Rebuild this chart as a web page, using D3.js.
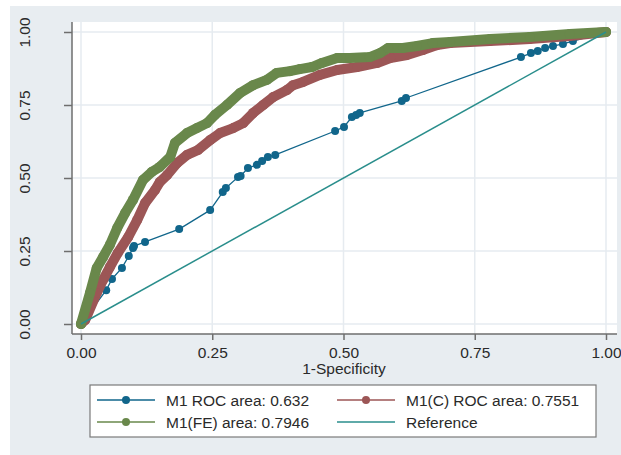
<!DOCTYPE html>
<html>
<head>
<meta charset="utf-8">
<script src="https://cdn.jsdelivr.net/npm/d3@7"></script>
<style>
  body { margin: 0; background: #fff; }
  svg { display: block; font-family: "Liberation Sans", Arial, sans-serif; }
</style>
</head>
<body>
<div class="roc"></div>
<script>
// Dimensions
const width = 621;
const height = 455;

// Ticks
const tickValues = [0, 0.25, 0.5, 0.75, 1];
const xTitle = '1-Specificity';

// Series (1-specificity, sensitivity)
const m1Points = [
	[0, 0], [0.048, 0.116], [0.059, 0.154], [0.078, 0.192], [0.091, 0.233],
	[0.099, 0.260], [0.101, 0.267], [0.122, 0.281], [0.187, 0.325], [0.246, 0.390],
	[0.270, 0.452], [0.276, 0.466], [0.299, 0.503], [0.304, 0.507], [0.318, 0.534],
	[0.335, 0.545], [0.345, 0.558], [0.356, 0.572], [0.370, 0.579], [0.484, 0.661],
	[0.501, 0.675], [0.516, 0.709], [0.524, 0.716], [0.531, 0.723], [0.611, 0.764],
	[0.619, 0.774], [0.838, 0.914], [0.857, 0.928], [0.870, 0.935], [0.884, 0.945],
	[0.899, 0.952], [0.918, 0.959], [0.937, 0.969], [1, 1]
];

const m1cPoints = [
	[0, 0], [0.008, 0.014], [0.030, 0.106], [0.042, 0.151], [0.055, 0.195],
	[0.070, 0.243], [0.090, 0.298], [0.107, 0.356], [0.122, 0.414], [0.141, 0.459],
	[0.150, 0.486], [0.164, 0.510], [0.183, 0.551], [0.202, 0.579], [0.223, 0.596],
	[0.246, 0.630], [0.265, 0.654], [0.290, 0.671], [0.309, 0.688], [0.328, 0.723],
	[0.347, 0.750], [0.366, 0.777], [0.392, 0.801], [0.404, 0.818], [0.423, 0.829],
	[0.455, 0.853], [0.488, 0.870], [0.526, 0.880], [0.564, 0.894], [0.589, 0.911],
	[0.621, 0.921], [0.651, 0.938], [0.678, 0.955], [0.703, 0.962], [0.779, 0.969],
	[0.855, 0.976], [0.931, 0.986], [1, 1]
];

const m1fePoints = [
	[0, 0], [0.017, 0.106], [0.030, 0.192], [0.042, 0.229], [0.055, 0.271],
	[0.069, 0.329], [0.084, 0.380], [0.099, 0.425], [0.118, 0.493], [0.135, 0.521],
	[0.150, 0.538], [0.170, 0.572], [0.179, 0.620], [0.202, 0.654], [0.221, 0.671],
	[0.240, 0.688], [0.255, 0.716], [0.278, 0.750], [0.303, 0.791], [0.328, 0.818],
	[0.354, 0.836], [0.373, 0.860], [0.398, 0.866], [0.417, 0.873], [0.440, 0.880],
	[0.459, 0.894], [0.488, 0.911], [0.512, 0.911], [0.550, 0.914], [0.570, 0.928],
	[0.585, 0.945], [0.613, 0.945], [0.640, 0.952], [0.670, 0.962], [0.703, 0.966],
	[0.779, 0.976], [0.855, 0.983], [0.931, 0.993], [1, 1]
];

const referencePoints = [[0, 0], [1, 1]];

// Légende
const legendLabels = ['M1 ROC area: 0.632', 'M1(C) ROC area: 0.7551', 'M1(FE) area: 0.7946', 'Reference'];

const colors = {
	m1: '#11668b',
	m1c: '#9c5656',
	m1fe: '#69884b',
	ref: '#2a8e8c'
};

const svg = d3.select('.roc')
	.append('svg')
	.attr('width', width)
	.attr('height', height);

// Fond gris et zone du graphique
svg.append('rect')
	.attr('x', 10).attr('y', 6)
	.attr('width', width - 10).attr('height', height - 6)
	.attr('fill', '#e8edf1');

const plot = { left: 72, right: 617, top: 22, bottom: 334 };

svg.append('rect')
	.attr('x', plot.left).attr('y', plot.top)
	.attr('width', plot.right - plot.left).attr('height', plot.bottom - plot.top)
	.attr('fill', '#fff');

const x = d3.scaleLinear().domain([0, 1]).range([81, 606]);
const y = d3.scaleLinear().domain([0, 1]).range([324, 32]);

// Grille
const grid = svg.append('g').attr('stroke', '#e6ebf0').attr('stroke-width', 1.5);
grid.selectAll('.gx')
	.data(tickValues)
	.join('line')
		.attr('x1', d => x(d)).attr('x2', d => x(d))
		.attr('y1', plot.top).attr('y2', plot.bottom);
grid.selectAll('.gy')
	.data(tickValues)
	.join('line')
		.attr('class', 'gy')
		.attr('y1', d => y(d)).attr('y2', d => y(d))
		.attr('x1', plot.left).attr('x2', plot.right);

// Axes
const fmt = d3.format('.2f');

svg.append('g')
	.attr('transform', `translate(0, ${plot.bottom})`)
	.call(d3.axisBottom(x).tickValues(tickValues).tickFormat(fmt).tickSize(6).tickPadding(7).tickSizeOuter(0))
	.call(g => g.select('.domain').attr('d', `M${plot.left},0H${plot.right}`))
	.call(g => g.selectAll('path, line').attr('stroke', '#6e6e6e').attr('stroke-width', 1.5))
	.call(g => g.selectAll('text').attr('fill', '#2a2a2a').style('font-size', '15.5px').style('font-family', '"Liberation Sans", Arial, sans-serif'));

const yAxis = svg.append('g')
	.attr('transform', `translate(${plot.left}, 0)`)
	.call(d3.axisLeft(y).tickValues(tickValues).tickFormat(fmt).tickSize(8).tickSizeOuter(0))
	.call(g => g.select('.domain').attr('d', `M0,${plot.top}V${plot.bottom}`))
	.call(g => g.selectAll('path, line').attr('stroke', '#6e6e6e').attr('stroke-width', 1.5));
yAxis.selectAll('text')
	.attr('x', null).attr('dy', null)
	.attr('text-anchor', 'middle')
	.attr('transform', 'translate(-42, 0) rotate(-90)')
	.attr('fill', '#2a2a2a')
	.style('font-size', '15.5px')
	.style('font-family', '"Liberation Sans", Arial, sans-serif');

svg.append('text')
	.attr('x', 344).attr('y', 374)
	.attr('text-anchor', 'middle')
	.attr('fill', '#2a2a2a')
	.style('font-size', '15.5px')
	.text(xTitle);

// Courbes
const line = d3.line().x(d => x(d[0])).y(d => y(d[1]));
const curves = svg.append('g');

function drawSeries(points, color, bandWidth, r) {
	const g = curves.append('g');
	g.append('path')
		.attr('d', line(points))
		.attr('fill', 'none')
		.attr('stroke', color)
		.attr('stroke-width', bandWidth)
		.attr('stroke-linejoin', 'round')
		.attr('stroke-linecap', 'round');
	g.selectAll('circle')
		.data(points)
		.join('circle')
			.attr('cx', d => x(d[0]))
			.attr('cy', d => y(d[1]))
			.attr('r', r)
			.attr('fill', color);
}

drawSeries(m1Points, colors.m1, 1.3, 4);
drawSeries(m1cPoints, colors.m1c, 10, 5);
drawSeries(m1fePoints, colors.m1fe, 10, 5);

curves.append('path')
	.attr('d', line(referencePoints))
	.attr('fill', 'none')
	.attr('stroke', colors.ref)
	.attr('stroke-width', 1.5);

// Légende
const legend = svg.append('g');
legend.append('rect')
	.attr('x', 90).attr('y', 385)
	.attr('width', 506).attr('height', 52)
	.attr('fill', '#fff')
	.attr('stroke', '#7a7a7a')
	.attr('stroke-width', 1.2);

const legendItems = [
	{ label: legendLabels[0], color: colors.m1, marker: true, col: 0, row: 0 },
	{ label: legendLabels[1], color: colors.m1c, marker: true, col: 1, row: 0 },
	{ label: legendLabels[2], color: colors.m1fe, marker: true, col: 0, row: 1 },
	{ label: legendLabels[3], color: colors.ref, marker: false, col: 1, row: 1 }
];
const colX = [97, 337];
const rowY = [400, 422];

const items = legend.selectAll('g.item')
	.data(legendItems)
	.join('g')
		.attr('class', 'item')
		.attr('transform', d => `translate(${colX[d.col]}, ${rowY[d.row]})`);

items.append('line')
	.attr('x1', 0).attr('x2', 58)
	.attr('stroke', d => d.color)
	.attr('stroke-width', 1.3);
items.filter(d => d.marker)
	.append('circle')
	.attr('cx', 29).attr('r', 4)
	.attr('fill', d => d.color);
items.append('text')
	.attr('x', 69).attr('y', 6)
	.attr('fill', '#2a2a2a')
	.style('font-size', '15.5px')
	.text(d => d.label);
</script>
</body>
</html>
